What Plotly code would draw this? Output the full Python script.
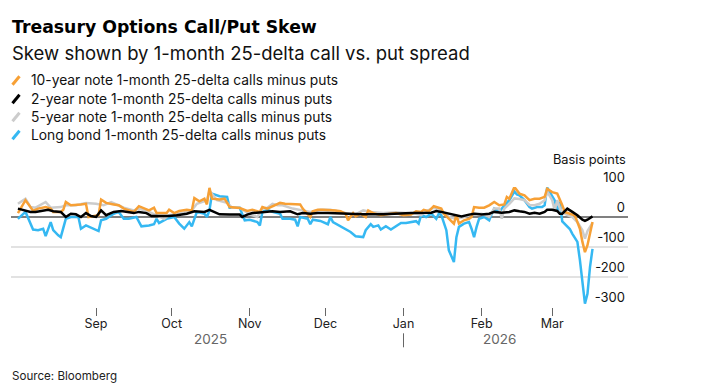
import plotly.graph_objects as go

# ---------------- data ----------------
dates_10y = ["2025-08-01","2025-08-04","2025-08-06","2025-08-07","2025-08-09","2025-08-12","2025-08-14","2025-08-15","2025-08-18","2025-08-19","2025-08-20","2025-08-22","2025-08-26","2025-08-28","2025-08-29",
"2025-09-02","2025-09-03","2025-09-05","2025-09-08","2025-09-10","2025-09-12","2025-09-14","2025-09-16","2025-09-18","2025-09-20","2025-09-22","2025-09-24","2025-09-25","2025-09-29","2025-09-30",
"2025-10-02","2025-10-04","2025-10-07","2025-10-09","2025-10-10","2025-10-12","2025-10-14","2025-10-15","2025-10-16","2025-10-17","2025-10-20","2025-10-22","2025-10-24","2025-10-28","2025-10-31",
"2025-11-02","2025-11-05","2025-11-06","2025-11-08","2025-11-10","2025-11-13","2025-11-15","2025-11-18","2025-11-21","2025-11-22","2025-11-25","2025-11-26","2025-11-28","2025-11-30",
"2025-12-03","2025-12-05","2025-12-07","2025-12-09","2025-12-10","2025-12-12","2025-12-13","2025-12-15","2025-12-17","2025-12-18","2025-12-20","2025-12-23","2025-12-27","2025-12-29",
"2026-01-01","2026-01-04","2026-01-06","2026-01-08","2026-01-09","2026-01-11","2026-01-13","2026-01-16","2026-01-17","2026-01-19","2026-01-21","2026-01-22","2026-01-23","2026-01-25","2026-01-27","2026-01-28","2026-01-29","2026-01-31",
"2026-02-02","2026-02-04","2026-02-06","2026-02-08","2026-02-10","2026-02-11","2026-02-12","2026-02-14","2026-02-15","2026-02-16","2026-02-18","2026-02-20","2026-02-22","2026-02-24","2026-02-26","2026-02-27",
"2026-03-01","2026-03-03","2026-03-05","2026-03-06","2026-03-08","2026-03-10","2026-03-11","2026-03-12","2026-03-13","2026-03-14","2026-03-15","2026-03-16","2026-03-17"]
skew_10y = [13,56,33,20,28,33,28,17,17,24,50,39,42,44,0,
6,58,47,42,39,28,22,17,36,28,22,31,13,13,24,
13,20,24,22,63,52,61,42,97,61,58,61,33,30,20,
24,17,33,28,36,47,44,42,42,28,0,19,24,24,
24,22,19,11,-11,13,2,11,0,22,13,6,11,13,
6,8,19,17,24,19,36,28,11,-6,-22,6,-22,-11,-6,0,33,31,
31,39,50,39,42,67,61,100,89,78,72,56,61,61,67,94,
83,78,39,17,11,6,-17,-39,-83,-117,-94,-56,-17]

dates_2y = ["2025-08-01","2025-08-03","2025-08-06","2025-08-08","2025-08-11","2025-08-13","2025-08-15","2025-08-18","2025-08-20","2025-08-22","2025-08-24","2025-08-26","2025-08-28","2025-08-30",
"2025-09-01","2025-09-03","2025-09-05","2025-09-08","2025-09-11","2025-09-13","2025-09-16","2025-09-18","2025-09-21","2025-09-23","2025-09-26","2025-09-30",
"2025-10-03","2025-10-07","2025-10-10","2025-10-12","2025-10-14","2025-10-16","2025-10-18","2025-10-20","2025-10-24","2025-10-28","2025-10-29","2025-10-31",
"2025-11-02","2025-11-06","2025-11-10","2025-11-13","2025-11-17","2025-11-20","2025-11-22","2025-11-25","2025-11-28",
"2025-12-02","2025-12-07","2025-12-13","2025-12-16","2025-12-24","2025-12-29",
"2026-01-04","2026-01-12","2026-01-14","2026-01-16","2026-01-19","2026-01-22","2026-01-24","2026-01-27","2026-01-29",
"2026-02-01","2026-02-04","2026-02-06","2026-02-09","2026-02-12","2026-02-14","2026-02-16","2026-02-18","2026-02-20","2026-02-22","2026-02-24","2026-02-26","2026-02-27",
"2026-03-01","2026-03-03","2026-03-04","2026-03-05","2026-03-07","2026-03-09","2026-03-11","2026-03-13","2026-03-14","2026-03-15","2026-03-17"]
skew_2y = [28,24,17,17,22,24,19,17,0,11,9,0,13,3,
0,22,6,17,20,17,13,17,13,3,3,3,
6,11,19,19,17,24,17,9,8,8,0,8,
13,17,19,17,19,9,13,11,13,
13,11,11,9,9,11,
13,14,20,17,11,6,2,8,11,
8,11,17,14,17,22,19,17,11,14,11,17,24,
24,20,11,11,28,17,6,-9,-13,-9,2]

dates_5y = ["2025-08-01","2025-08-04","2025-08-06","2025-08-08","2025-08-12","2025-08-14","2025-08-18","2025-08-20","2025-08-24","2025-08-28",
"2025-09-01","2025-09-04","2025-09-07","2025-09-09","2025-09-12","2025-09-16","2025-09-18","2025-09-22","2025-09-25","2025-09-28","2025-09-30",
"2025-10-04","2025-10-09","2025-10-11","2025-10-15","2025-10-16","2025-10-19","2025-10-23","2025-10-25","2025-10-28",
"2025-11-01","2025-11-04","2025-11-06","2025-11-08","2025-11-10","2025-11-12","2025-11-14","2025-11-18","2025-11-22","2025-11-25","2025-11-29",
"2025-12-03","2025-12-07","2025-12-11","2025-12-13","2025-12-16","2025-12-19","2025-12-24","2025-12-29",
"2026-01-02","2026-01-06","2026-01-08","2026-01-10","2026-01-13","2026-01-16","2026-01-19","2026-01-22","2026-01-25","2026-01-27","2026-01-29",
"2026-02-01","2026-02-04","2026-02-06","2026-02-08","2026-02-09","2026-02-10","2026-02-12","2026-02-14","2026-02-16","2026-02-18","2026-02-20","2026-02-22","2026-02-24","2026-02-26","2026-02-27",
"2026-03-01","2026-03-02","2026-03-03","2026-03-04","2026-03-05","2026-03-07","2026-03-09","2026-03-11","2026-03-13","2026-03-14","2026-03-15","2026-03-17"]
skew_5y = [44,61,33,31,50,31,33,39,39,47,
44,39,50,42,31,22,28,17,6,-6,6,
11,22,44,56,87,56,47,31,31,
9,0,28,31,44,39,39,28,22,17,24,
24,17,9,9,22,17,13,16,
14,11,6,19,31,22,0,-6,0,6,11,
11,0,28,28,-6,28,44,62,60,56,40,39,44,56,85,
56,22,56,30,17,6,0,-17,-44,-72,-47,-20]

dates_30y = ["2025-08-01","2025-08-04","2025-08-07","2025-08-09","2025-08-11","2025-08-12","2025-08-14","2025-08-15","2025-08-17","2025-08-18","2025-08-20","2025-08-22","2025-08-25","2025-08-26","2025-08-28","2025-08-30",
"2025-09-02","2025-09-03","2025-09-05","2025-09-08","2025-09-10","2025-09-12","2025-09-14","2025-09-17","2025-09-19","2025-09-22","2025-09-24","2025-09-25","2025-09-26","2025-09-29",
"2025-10-02","2025-10-04","2025-10-06","2025-10-08","2025-10-09","2025-10-11","2025-10-14","2025-10-15","2025-10-16","2025-10-17","2025-10-20","2025-10-23","2025-10-24","2025-10-28","2025-10-30",
"2025-11-01","2025-11-04","2025-11-05","2025-11-06","2025-11-08","2025-11-10","2025-11-13","2025-11-14","2025-11-17","2025-11-19","2025-11-20","2025-11-21","2025-11-24","2025-11-25","2025-11-26","2025-11-29",
"2025-12-02","2025-12-03","2025-12-04","2025-12-07","2025-12-09","2025-12-11","2025-12-13","2025-12-16","2025-12-17","2025-12-19","2025-12-20","2025-12-22","2025-12-23","2025-12-25","2025-12-27","2025-12-29","2025-12-31",
"2026-01-02","2026-01-06","2026-01-07","2026-01-08","2026-01-10","2026-01-12","2026-01-14","2026-01-15","2026-01-16","2026-01-18","2026-01-19","2026-01-21","2026-01-22","2026-01-23","2026-01-25","2026-01-27","2026-01-28","2026-01-29","2026-01-30","2026-01-31",
"2026-02-02","2026-02-03","2026-02-04","2026-02-05","2026-02-06","2026-02-08","2026-02-09","2026-02-10","2026-02-12","2026-02-13","2026-02-14","2026-02-15","2026-02-16","2026-02-18","2026-02-20","2026-02-21","2026-02-23","2026-02-25","2026-02-26","2026-02-27",
"2026-03-01","2026-03-02","2026-03-03","2026-03-04","2026-03-05","2026-03-07","2026-03-08","2026-03-09","2026-03-11","2026-03-12","2026-03-13","2026-03-14","2026-03-15","2026-03-16","2026-03-17"]
skew_30y = [-6,17,-42,-44,-39,-64,-17,-44,-61,-67,-6,0,0,-39,-28,-36,
-47,-11,-6,11,17,-6,-6,0,-31,-28,-24,-6,-20,-6,
0,-22,-39,-17,-31,17,11,0,22,78,69,67,31,31,-11,
-9,-17,-28,17,24,17,11,-6,-6,-9,-31,0,-6,-24,-9,-13,
-24,0,-17,-31,-42,-50,-64,-67,-44,-24,-33,-28,-42,-31,-42,-31,-20,
-20,-14,-22,6,0,11,-6,11,6,-44,-111,-150,-67,-33,-22,-17,-39,-67,-33,-6,
0,-6,-11,11,28,17,28,39,56,72,85,75,72,56,33,28,33,33,39,98,
72,55,20,50,-15,-33,-40,-56,-83,-144,-222,-289,-256,-167,-106]

series_names = ["10-year note 1-month 25-delta calls minus puts",
                "2-year note 1-month 25-delta calls minus puts",
                "5-year note 1-month 25-delta calls minus puts",
                "Long bond 1-month 25-delta calls minus puts"]
series_colors = ["#f7a035", "#000000", "#cccccc", "#35b8f2"]

month_ticks = ["2025-09-01","2025-10-01","2025-11-01","2025-12-01","2026-01-01","2026-02-01","2026-03-01"]
month_labels = ["Sep","Oct","Nov","Dec","Jan","Feb","Mar"]
y_ticks = [-300, -200, -100, 0, 100]
y_labels = ["-300", "-200", "-100", "0", "100"]
x_range = ["2025-07-29 06:00", "2026-03-31 02:00"]
y_range = [-300, 100]

# ---------------- layout geometry (screen pixels) ----------------
W, H = 703, 391
OX, OY = 8, 8                      # page body margin offset
PL, PR, PT, PB = 11, 628, 186.7, 306.7   # plot box on screen
PW, PH = PR - PL, PB - PT
L, T = PL - OX, PT - OY
R, B = W - L - PW, H - T - PH
def px(xs):
    return (xs - PL) / PW
def py(ys):
    return (PB - ys) / PH

FONT = "Inter, Liberation Sans, Arial, sans-serif"

fig = go.Figure()
draw_order = [(dates_30y, skew_30y, 3), (dates_5y, skew_5y, 2),
              (dates_10y, skew_10y, 0), (dates_2y, skew_2y, 1)]
for d, v, i in draw_order:
    fig.add_trace(go.Scatter(x=d, y=v, mode="lines", name=series_names[i],
                             line=dict(color=series_colors[i], width=2.5),
                             showlegend=False, hoverinfo="skip"))

ann = []
ann.append(dict(text="<b>Treasury Options Call/Put Skew</b>", x=px(10), y=py(27),
                xanchor="left", yanchor="middle",
                font=dict(size=17.3, color="#000", family="DejaVu Sans, Inter, sans-serif")))
ann.append(dict(text="Skew shown by 1-month 25-delta call vs. put spread", x=px(10), y=py(53),
                xanchor="left", yanchor="middle", font=dict(size=18.5, color="#111")))
shapes = []
leg_y = [80, 98.5, 116.5, 134.5]
for i in range(4):
    ann.append(dict(text=series_names[i], x=px(29), y=py(leg_y[i]), xanchor="left",
                    yanchor="middle", font=dict(size=13.8, color="#111")))
    shapes.append(dict(type="line", xref="paper", yref="paper",
                       x0=px(12.5), y0=py(leg_y[i] + 4.5), x1=px(19.5), y1=py(leg_y[i] - 4),
                       line=dict(color=series_colors[i], width=3)))
ann.append(dict(text="Basis points", x=1, y=py(159), xanchor="right", yanchor="middle",
                font=dict(size=12.8, color="#111")))
ann.append(dict(text="2025", x="2025-10-16 12:00", xref="x", y=py(338.5), xanchor="center",
                yanchor="middle", font=dict(size=13.5, color="#666")))
ann.append(dict(text="2026", x="2026-02-08", xref="x", y=py(338.5), xanchor="center",
                yanchor="middle", font=dict(size=13.5, color="#666")))
ann.append(dict(text="Source: Bloomberg", x=px(10), y=py(376), xanchor="left", yanchor="middle",
                font=dict(size=11.6, color="#222")))
for a in ann:
    a.setdefault("xref", "paper")
    a["yref"] = "paper"
    a["showarrow"] = False
shapes.append(dict(type="line", xref="x", yref="paper", x0="2026-01-01", x1="2026-01-01",
                   y0=py(333), y1=py(347), line=dict(color="#666", width=1)))

fig.update_layout(
    width=W, height=H, margin=dict(l=L, r=R, t=T, b=B, pad=0),
    paper_bgcolor="white", plot_bgcolor="white",
    font=dict(family=FONT, color="#111"),
    annotations=ann, shapes=shapes, showlegend=False,
    xaxis=dict(type="date", range=x_range, tickvals=month_ticks, ticktext=month_labels,
               showgrid=False, zeroline=False, showline=False,
               ticks="outside", ticklen=8, tickwidth=1, tickcolor="#666",
               ticklabelstandoff=-3,
               tickfont=dict(size=12.5, color="#222")),
    yaxis=dict(range=y_range, side="right", tickvals=y_ticks, ticktext=y_labels,
               showgrid=True, gridcolor="#e2e2e2", gridwidth=1.5,
               zeroline=True, zerolinecolor="#808080", zerolinewidth=2,
               showline=False, ticks="", ticklabelposition="inside top",
               ticklabeloverflow="allow",
               tickfont=dict(size=13, color="#111")),
)

fig.write_html("out.html")
